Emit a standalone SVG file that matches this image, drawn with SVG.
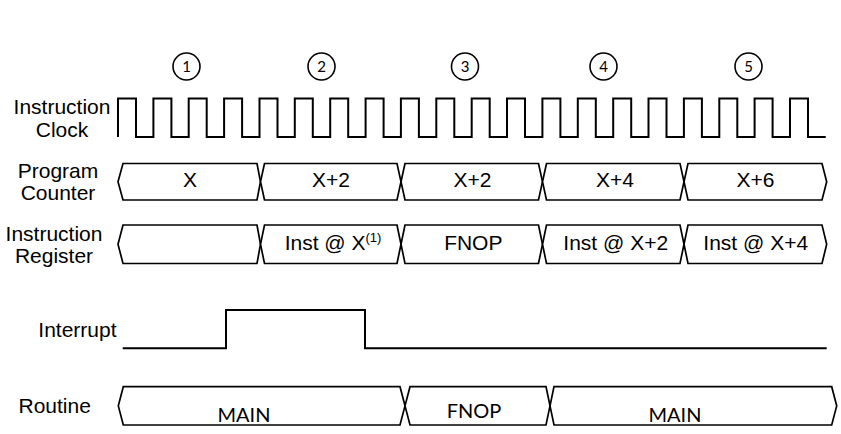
<svg xmlns="http://www.w3.org/2000/svg" width="841" height="434" viewBox="0 0 841 434">
<style>
.lbl{font-family:"Liberation Sans",Arial,sans-serif;font-size:21px;fill:#000}
.val{font-family:"Liberation Sans",Arial,sans-serif;font-size:21px;fill:#000;text-anchor:middle}
.cal{font-family:Lato,"Open Sans",sans-serif;fill:#000;text-anchor:middle}
.bus{fill:#fff;stroke:#000;stroke-width:1.7;stroke-linejoin:miter}
.wave{fill:none;stroke:#000;stroke-width:2}
.num{fill:none;stroke:#000;stroke-width:1.6}
</style>
<rect width="841" height="434" fill="#fff"/>
<g id="cycle-markers">
<g id="c1"><circle class="num" cx="186.5" cy="66.5" r="13.5"/><text class="cal" x="186.5" y="71.8" font-size="15">1</text></g>
<g id="c2"><circle class="num" cx="321.5" cy="66.5" r="13.5"/><text class="cal" x="321.5" y="71.8" font-size="15">2</text></g>
<g id="c3"><circle class="num" cx="465" cy="66.5" r="13.5"/><text class="cal" x="465" y="71.8" font-size="15">3</text></g>
<g id="c4"><circle class="num" cx="603.5" cy="66.5" r="13.5"/><text class="cal" x="603.5" y="71.8" font-size="15">4</text></g>
<g id="c5"><circle class="num" cx="748.5" cy="66.5" r="13.5"/><text class="cal" x="748.5" y="71.8" font-size="15">5</text></g>
</g>
<g id="instruction-clock">
<text class="lbl" x="62" y="114" text-anchor="middle">Instruction</text>
<text class="lbl" x="62" y="136.7" text-anchor="middle">Clock</text>
<path class="wave" d="M118,137 V98.5 H136 V137 H153.4 V98.5 H171.4 V137 H188.7 V98.5 H206.7 V137 H224.1 V98.5 H242.1 V137 H259.5 V98.5 H277.5 V137 H294.8 V98.5 H312.8 V137 H330.2 V98.5 H348.2 V137 H365.6 V98.5 H383.6 V137 H400.9 V98.5 H418.9 V137 H436.3 V98.5 H454.3 V137 H471.7 V98.5 H489.7 V137 H507 V98.5 H525 V137 H542.4 V98.5 H560.4 V137 H577.8 V98.5 H595.8 V137 H613.2 V98.5 H631.2 V137 H648.5 V98.5 H666.5 V137 H683.9 V98.5 H701.9 V137 H719.3 V98.5 H737.3 V137 H754.6 V98.5 H772.6 V137 H790 V98.5 H808 V137 H825.7"/>
</g>
<g id="program-counter">
<text class="lbl" x="58" y="177.5" text-anchor="middle">Program</text>
<text class="lbl" x="58" y="200" text-anchor="middle">Counter</text>
<polygon class="bus" points="118,181.75 123,163.5 257,163.5 260.5,181.75 257,200 123,200"/>
<polygon class="bus" points="260.5,181.75 264.5,163.5 397,163.5 401,181.75 397,200 264.5,200"/>
<polygon class="bus" points="401,181.75 405,163.5 538.5,163.5 542.5,181.75 538.5,200 405,200"/>
<polygon class="bus" points="542.5,181.75 546.5,163.5 680,163.5 684,181.75 680,200 546.5,200"/>
<polygon class="bus" points="684,181.75 688,163.5 822,163.5 826.7,181.75 822,200 688,200"/>
<text class="val" x="190" y="187">X</text>
<text class="val" x="331" y="187">X+2</text>
<text class="val" x="472.5" y="187">X+2</text>
<text class="val" x="615" y="187">X+4</text>
<text class="val" x="755.5" y="187">X+6</text>
</g>
<g id="instruction-register">
<text class="lbl" x="54" y="240.5" text-anchor="middle">Instruction</text>
<text class="lbl" x="54" y="263.2" text-anchor="middle">Register</text>
<polygon class="bus" points="118,244.25 123,225 257,225 260.5,244.25 257,263.5 123,263.5"/>
<polygon class="bus" points="260.5,244.25 264.5,225 397,225 401,244.25 397,263.5 264.5,263.5"/>
<polygon class="bus" points="401,244.25 405,225 538.5,225 542.5,244.25 538.5,263.5 405,263.5"/>
<polygon class="bus" points="542.5,244.25 546.5,225 680,225 684,244.25 680,263.5 546.5,263.5"/>
<polygon class="bus" points="684,244.25 688,225 822,225 826.7,244.25 822,263.5 688,263.5"/>
<text class="val" x="333" y="250">Inst @ X<tspan font-size="13" dy="-8">(1)</tspan></text>
<text class="val" x="473.3" y="250">FNOP</text>
<text class="val" x="615.7" y="250">Inst @ X+2</text>
<text class="val" x="755.7" y="250">Inst @ X+4</text>
</g>
<g id="interrupt">
<text class="lbl" x="38.3" y="336.7">Interrupt</text>
<path class="wave" d="M122.7,348.3 H226 V310 H365 V348.3 H826.7"/>
</g>
<g id="routine">
<text class="lbl" x="18.5" y="413">Routine</text>
<polygon class="bus" points="118.3,405.85 123.3,386.7 400,386.7 405,405.85 400,425 123.3,425"/>
<polygon class="bus" points="405,405.85 410,386.7 546,386.7 550,405.85 546,425 410,425"/>
<polygon class="bus" points="550,405.85 554,386.7 831.7,386.7 836.7,405.85 831.7,425 554,425"/>
<text class="cal" x="244" y="421.7" font-size="20">MAIN</text>
<text class="cal" x="474" y="418" font-size="20">FNOP</text>
<text class="cal" x="675" y="421.7" font-size="20">MAIN</text>
</g>
<g id="connectors"/>
</svg>
